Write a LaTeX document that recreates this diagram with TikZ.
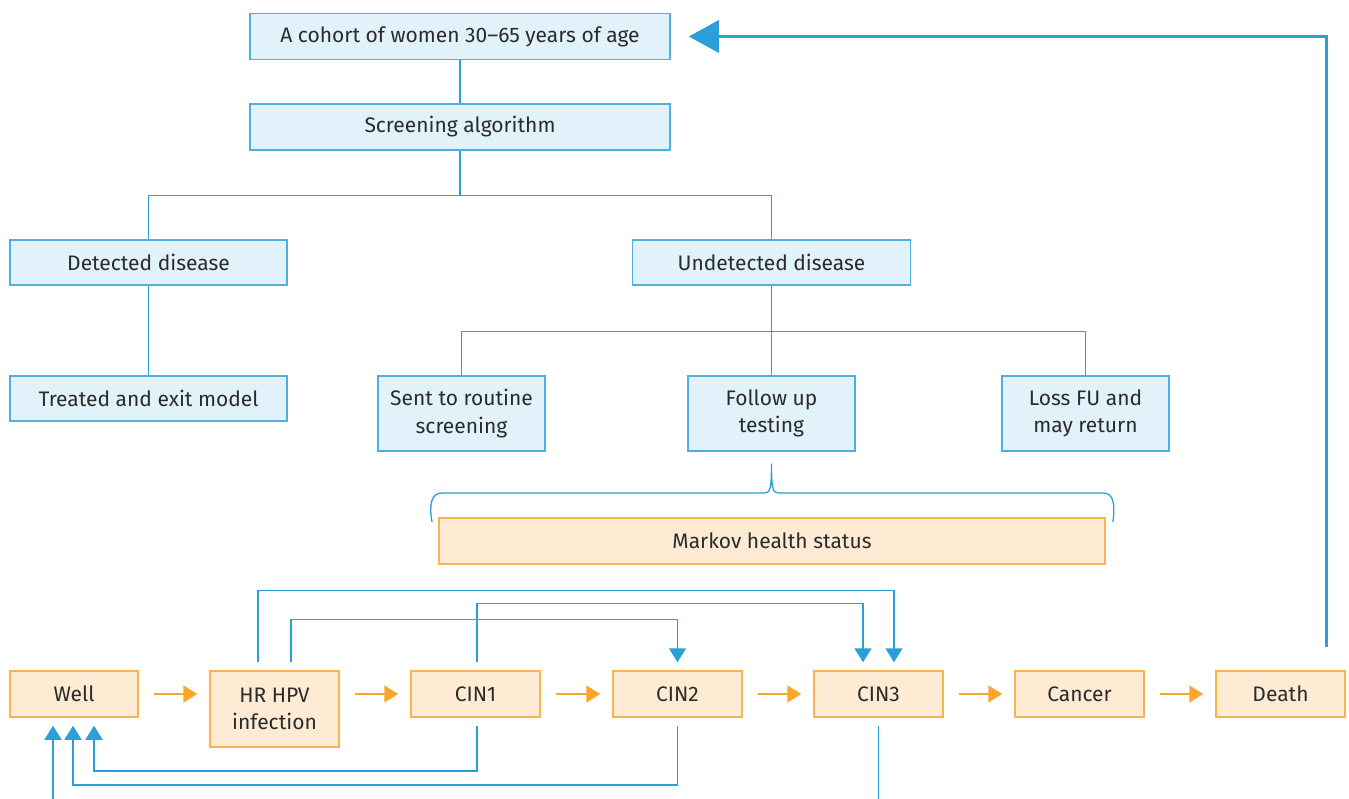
\documentclass[tikz,border=0pt]{standalone}
\usepackage{fontspec}
\setmainfont{Fira Sans}
\usetikzlibrary{arrows.meta,calc}
\definecolor{bline}{HTML}{2A9FD8}
\definecolor{bfill}{HTML}{E1F2FA}
\definecolor{bdraw}{HTML}{4EAFE0}
\definecolor{ofill}{HTML}{FDEBD3}
\definecolor{odraw}{HTML}{F9B451}
\definecolor{oarrow}{HTML}{F9A62B}
\definecolor{txt}{HTML}{2B2B2B}
\tikzset{
  box/.style={draw, line width=1.5pt, minimum height=46pt, inner sep=0pt, align=center,
    text=txt, font=\fontsize{21}{27.5}\selectfont},
  bbox/.style={box, draw=bdraw, fill=bfill},
  obox/.style={box, draw=odraw, fill=ofill},
  tl/.style={draw=bline, line width=1.5pt},
  barr/.style={tl, -{Triangle[length=14pt,width=17pt]}},
  oarr/.style={draw=oarrow, line width=1.5pt, -{Triangle[length=14pt,width=17pt]}},
  bigarr/.style={draw=bline, line width=3pt, -{Triangle[length=30pt,width=32pt]}},
}
\begin{document}
\begin{tikzpicture}[x=1pt,y=-1pt]
\useasboundingbox (0,0) rectangle (1349,799);
% tree boxes
\node[bbox, minimum width=420pt] (cohort) at (460,36.5) {A cohort of women 30--65 years of age};
\node[bbox, minimum width=420pt] (screen) at (460,127) {Screening algorithm};
\node[bbox, minimum width=277pt, minimum height=45pt] (det) at (148.5,262.5) {Detected disease};
\node[bbox, minimum width=278pt, minimum height=45pt] (undet) at (771.5,262.5) {Undetected disease};
\node[bbox, minimum width=277pt, minimum height=45pt] (treat) at (148.5,398.5) {Treated and exit model};
\node[bbox, minimum width=167pt, minimum height=75pt] (routine) at (461.5,413.5) {Sent to routine\\screening};
\node[bbox, minimum width=167pt, minimum height=75pt] (follow) at (771.5,413.5) {Follow up\\testing};
\node[bbox, minimum width=167pt, minimum height=75pt] (loss) at (1085.5,413.5) {Loss FU and\\may return};
\node[obox, minimum width=666pt] (markov) at (772,541) {Markov health status};
% markov states
\node[obox, minimum width=128pt] (well) at (74,694) {Well};
\node[obox, minimum width=129pt, minimum height=76pt] (hr) at (274.5,709) {HR HPV\\infection};
\node[obox, minimum width=129pt] (cin1) at (475.5,694) {CIN1};
\node[obox, minimum width=129pt] (cin2) at (677.5,694) {CIN2};
\node[obox, minimum width=129pt] (cin3) at (878.5,694) {CIN3};
\node[obox, minimum width=129pt] (cancer) at (1079.5,694) {Cancer};
\node[obox, minimum width=129pt] (death) at (1280.5,694) {Death};
% tree connectors
\draw[tl] (cohort) -- (screen);
\draw[tl] (screen.south) -- ++(0,45) coordinate (j1);
\draw[tl] (j1) -| (det.north);
\draw[tl] (j1) -| (undet.north);
\draw[tl] (det) -- (treat);
\draw[tl] (undet.south) -- ++(0,46) coordinate (j2);
\draw[tl] (j2) -| (routine.north);
\draw[tl] (j2) -| (follow.north);
\draw[tl] (j2) -| (loss.north);
% brace
\coordinate (bt) at ([yshift=-12pt]follow.south);
\draw[tl, line width=1.3pt] (432,522) .. controls (429,505) and (431,493) .. (442,493)
  -- (764,493) .. controls (770,493) and (771.5,490) .. (bt)
  .. controls (771.5,490) and (773,493) .. (779,493)
  -- (1103,493) .. controls (1114,493) and (1115,505) .. (1113,522);
% orange arrows
\tikzset{oshort/.style={oarr, shorten <=15pt, shorten >=12pt}}
\draw[oshort] (well.east) -- (well.east -| hr.west);
\draw[oshort] (hr.east |- cin1.west) -- (cin1.west);
\draw[oshort] (cin1.east) -- (cin2.west);
\draw[oshort] (cin2.east) -- (cin3.west);
\draw[oshort] (cin3.east) -- (cancer.west);
\draw[oshort] (cancer.east) -- (death.west);
% upper blue arrows
\draw[barr] ([xshift=-16.5pt,yshift=8pt]hr.north) -- ++(0,-72) -| ([xshift=15.5pt,yshift=8pt]cin3.north);
\draw[barr] ([xshift=1.5pt,yshift=8pt]cin1.north) -- ++(0,-59) -| ([xshift=-15.5pt,yshift=8pt]cin3.north);
\draw[barr] ([xshift=16.5pt,yshift=8pt]hr.north) -- ++(0,-43) -| ([yshift=8pt]cin2.north);
% lower blue arrows
\draw[barr] ([xshift=1.5pt,yshift=-8pt]cin1.south) -- ++(0,45) -| ([xshift=20pt,yshift=-8pt]well.south);
\draw[barr] ([yshift=-8pt]cin2.south) -- ++(0,59) -| ([xshift=-1pt,yshift=-8pt]well.south);
\coordinate (wb) at (53,799);
\draw[barr] (wb) -- ([xshift=-21pt,yshift=-8pt]well.south);
\coordinate (cb) at (878.5,799);
\draw[tl] ([yshift=-8pt]cin3.south) -- (cb);
% death back to cohort
\draw[bigarr] ([xshift=45.5pt,yshift=23pt]death.north) |- ([xshift=18pt]cohort.east);
\end{tikzpicture}
\end{document}
